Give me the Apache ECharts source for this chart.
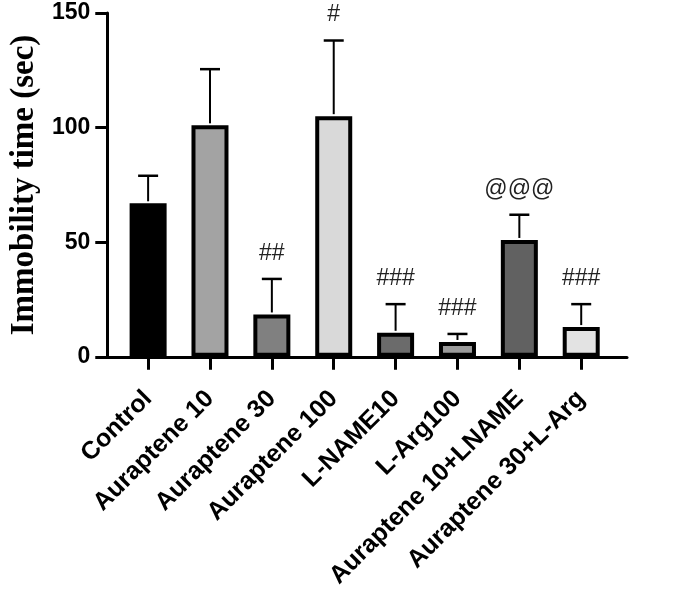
<!DOCTYPE html>
<html><head><meta charset="utf-8">
<script src="https://cdn.jsdelivr.net/npm/echarts@6/dist/echarts.min.js"></script>
<style>html,body{margin:0;padding:0;background:#fff}#c{width:685px;height:591px}</style>
</head><body><div id="c"></div>
<script>
const categories = ['Control','Auraptene 10','Auraptene 30','Auraptene 100','L-NAME10','L-Arg100','Auraptene 10+LNAME','Auraptene 30+L-Arg'];
const means = [67, 101, 18.5, 105, 10.5, 6.5, 51, 13];
const errors = [12, 24.5, 15.5, 33, 12.5, 3.5, 11, 10];
const annotations = ['', '', '##', '#', '###', '###', '@@@', '###'];
const fills = ['#000000','#a3a3a3','#808080','#d9d9d9','#6b6b6b','#9a9a9a','#616161','#e3e3e3'];
const yTicks = [0, 50, 100, 150];

const chart = echarts.init(document.getElementById('c'));
const idx = categories.map((_, i) => i);
chart.setOption({
  animation: false,
  grid: {left: 107, right: 58, top: 13, bottom: 233},
  xAxis: {
    type: 'value', min: -0.66, max: 7.74,
    splitLine: {show: false},
    axisLine: {show: true, onZero: false, lineStyle: {color: '#000', width: 3}},
    axisTick: {show: true, customValues: idx, length: 13, lineStyle: {color: '#000', width: 3}},
    axisLabel: {
      customValues: idx, rotate: 45, margin: 38,
      formatter: v => categories[Math.round(v)],
      fontFamily: 'Liberation Sans, Arial', fontWeight: 'bold', fontSize: 25, color: '#000'
    }
  },
  yAxis: {
    type: 'value', min: 0, max: 150, interval: 50,
    name: 'Immobility time (sec)', nameLocation: 'middle', nameGap: 62,
    nameTextStyle: {fontFamily: 'Liberation Serif, Times New Roman', fontWeight: 'bold', fontSize: 33, color: '#000'},
    splitLine: {show: false},
    axisLine: {show: true, onZero: false, lineStyle: {color: '#000', width: 3}},
    axisTick: {show: true, length: 12, lineStyle: {color: '#000', width: 3}},
    axisLabel: {margin: 17, fontFamily: 'Liberation Sans, Arial', fontWeight: 'bold', fontSize: 23, color: '#000',
      customValues: yTicks}
  },
  series: [
    {
      type: 'bar', barWidth: 37,
      data: means.map((m, i) => ({value: [i, m], itemStyle: {color: fills[i]}})),
      itemStyle: {borderColor: '#000', borderWidth: 4},
      z: 2
    },
    {
      type: 'custom', z: 3,
      data: means.map((m, i) => [i, m, m + errors[i]]),
      renderItem: (params, api) => {
        const i = api.value(0);
        const base = api.coord([i, api.value(1)]);
        const top = api.coord([i, api.value(2)]);
        const children = [
          {type: 'line', shape: {x1: base[0], y1: base[1] - 2, x2: top[0], y2: top[1]}, style: {stroke: '#000', lineWidth: 2}},
          {type: 'line', shape: {x1: top[0] - 10, y1: top[1], x2: top[0] + 10, y2: top[1]}, style: {stroke: '#000', lineWidth: 2.5}}
        ];
        const ann = annotations[params.dataIndex];
        if (ann) {
          children.push({type: 'text', x: top[0], y: top[1] - 14,
            style: {text: ann, fill: '#222', font: '23px Liberation Sans, Arial', align: 'center', verticalAlign: 'bottom'}});
        }
        return {type: 'group', children};
      }
    }
  ]
});
</script></body></html>
